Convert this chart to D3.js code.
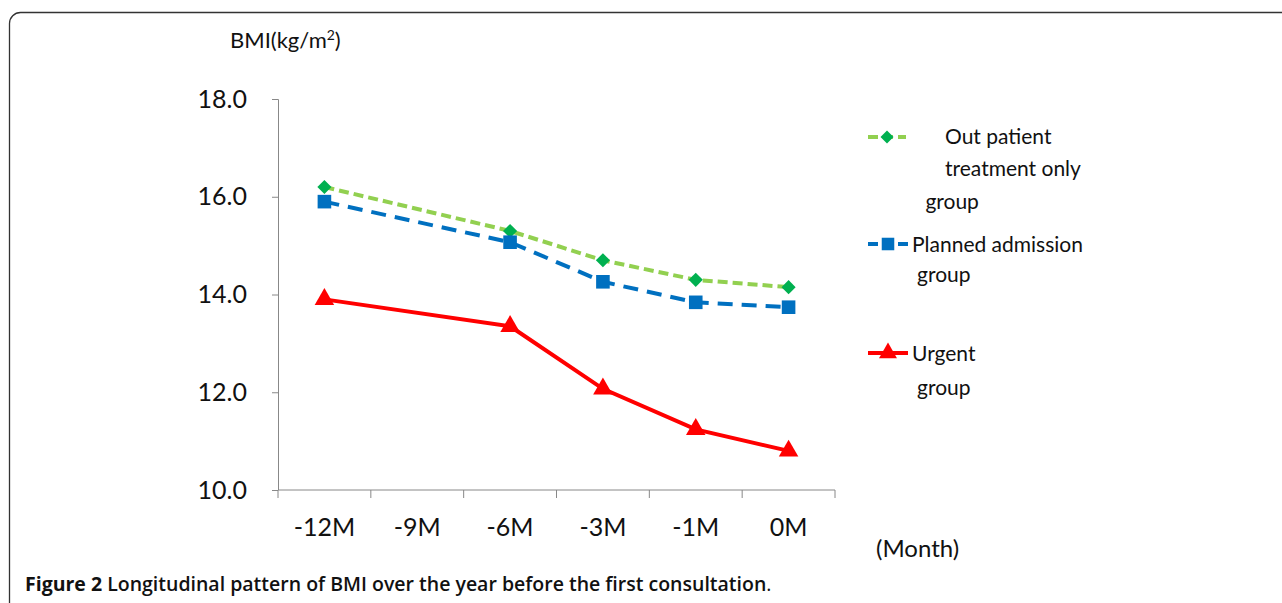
<!DOCTYPE html>
<html>
<head>
<meta charset="utf-8">
<script src="https://cdn.jsdelivr.net/npm/d3@7"></script>
<style>
  body { margin: 0; background: #fff; }
  svg text { font-family: Lato, "Open Sans", sans-serif; fill: #111; }
</style>
</head>
<body>
<div id="chart"></div>
<script>
// categories on the x axis (-9M has no measurement)
const months = ["-12M", "-9M", "-6M", "-3M", "-1M", "0M"];
const measured = ["-12M", "-6M", "-3M", "-1M", "0M"];
const yTicks = [10, 12, 14, 16, 18];

// BMI values
const outpatient = [16.2, 15.3, 14.7, 14.3, 14.15];
const planned = [15.9, 15.07, 14.26, 13.84, 13.74];
const urgent = [13.9, 13.35, 12.07, 11.24, 10.8];

const W = 1282, H = 603;
const svg = d3.select("#chart").append("svg")
	.attr("width", W).attr("height", H);

// frame round the figure
svg.append("rect")
	.attr("x", 9.5).attr("y", 12.5)
	.attr("width", W + 20).attr("height", H + 20)
	.attr("rx", 11)
	.attr("fill", "none").attr("stroke", "#333").attr("stroke-width", 1.3);

const x = d3.scaleBand().domain(months).range([278, 835]);
const y = d3.scaleLinear().domain([10, 18]).range([490, 99]);
const axisColor = "#888";

// y axis
const yAxis = svg.append("g")
	.attr("transform", "translate(278,0)")
	.call(d3.axisLeft(y).tickValues(yTicks).tickSize(6).tickPadding(25).tickFormat(d3.format(".1f")));
yAxis.select(".domain").attr("stroke", axisColor).attr("d", "M-6,99.5H0.5V490");
yAxis.selectAll(".tick line").attr("stroke", axisColor);
yAxis.selectAll("text").style("font-size", "25px").style("font-family", "Lato").attr("fill", "#111");

// x axis: ticks sit on the category edges
const xAxis = svg.append("g").attr("transform", "translate(0,490)");
xAxis.append("line")
	.attr("x1", 278).attr("x2", 835)
	.attr("stroke", axisColor);
const edges = months.map(m => x(m)).concat([x.range()[1]]);
xAxis.selectAll(".edge").data(edges).enter().append("line")
	.attr("x1", d => d).attr("x2", d => d)
	.attr("y1", 0).attr("y2", 8)
	.attr("stroke", axisColor);
xAxis.selectAll(".lab").data(months).enter().append("text")
	.attr("x", d => x(d) + x.bandwidth() / 2)
	.attr("y", 46)
	.attr("text-anchor", "middle")
	.style("font-size", "25px")
	.text(d => d);

// axis titles
const yTitle = svg.append("text").attr("x", 230).attr("y", 48).style("font-size", "22px");
yTitle.append("tspan").text("BMI(kg/m");
yTitle.append("tspan").attr("dy", -8).style("font-size", "14px").text("2");
yTitle.append("tspan").attr("dy", 8).text(")");

svg.append("text").attr("x", 876).attr("y", 557).style("font-size", "24px").text("(Month)");

const cx = m => x(m) + x.bandwidth() / 2;
const line = d3.line().x(d => cx(d.m)).y(d => y(d.v));

// diamond = square turned by 45 degrees
const series = [
	{ name: "outpatient", values: outpatient, color: "#92D050", mark: "#00B050", dash: "10,5", sym: d3.symbolSquare, rot: 45, size: 100 },
	{ name: "planned", values: planned, color: "#0070C0", mark: "#0070C0", dash: "15,9", sym: d3.symbolSquare, rot: 0, size: 185 },
	{ name: "urgent", values: urgent, color: "#FF0000", mark: "#FF0000", dash: null, sym: d3.symbolTriangle, rot: 0, size: 165 }
];

series.forEach(s => {
	const pts = measured.map((m, i) => ({ m: m, v: s.values[i] }));
	svg.append("path")
		.datum(pts)
		.attr("d", line)
		.attr("fill", "none")
		.attr("stroke", s.color)
		.attr("stroke-width", 4)
		.attr("stroke-dasharray", s.dash);
	svg.selectAll(".pt-" + s.name).data(pts).enter().append("path")
		.attr("transform", d => "translate(" + cx(d.m) + "," + y(d.v) + ") rotate(" + s.rot + ")")
		.attr("d", d3.symbol().type(s.sym).size(s.size))
		.attr("fill", s.mark);
});

// legend
const legend = [
	{ s: series[0], y: 137, x1: 868, x2: 906, lines: [[945, 144, "Out patient"], [945, 176, "treatment only"], [920, 209, " group"]] },
	{ s: series[1], y: 244, x1: 868, x2: 908, lines: [[912, 252, "Planned admission"], [917, 282, "group"]] },
	{ s: series[2], y: 353, x1: 868, x2: 908, lines: [[912, 361, "Urgent"], [917, 395, "group"]] }
];
legend.forEach(l => {
	svg.append("line")
		.attr("x1", l.x1).attr("x2", l.x2)
		.attr("y1", l.y).attr("y2", l.y)
		.attr("stroke", l.s.color).attr("stroke-width", 4)
		.attr("stroke-dasharray", l.s.dash ? "10,5" : null);
	svg.append("path")
		.attr("transform", "translate(" + (l.x1 + l.x2) / 2 + "," + l.y + ") rotate(" + l.s.rot + ")")
		.attr("d", d3.symbol().type(l.s.sym).size(l.s.size * 0.85))
		.attr("fill", l.s.mark);
	l.lines.forEach(t => {
		svg.append("text").attr("x", t[0]).attr("y", t[1])
			.style("font-size", "21px").style("white-space", "pre")
			.text(t[2]);
	});
});

// caption
const cap = svg.append("text").attr("x", 25).attr("y", 591)
	.style("font-family", "'Open Sans', sans-serif")
	.style("font-size", "19.5px").style("font-weight", "bold");
cap.append("tspan").text("Figure 2 ");
cap.append("tspan").style("font-weight", "600").text("Longitudinal pattern of BMI over the year before the first consultation");
cap.append("tspan").style("font-weight", "normal").text(".");
</script>
</body>
</html>
